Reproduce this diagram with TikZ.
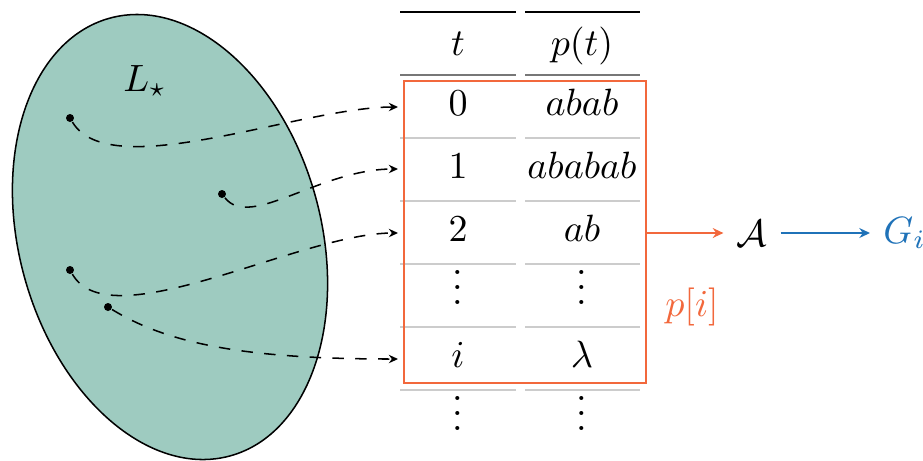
\documentclass[tikz,border=0pt]{standalone}
\usetikzlibrary{arrows.meta}
\definecolor{setfill}{HTML}{9ECBC0}
\definecolor{orng}{HTML}{F2683C}
\definecolor{blu}{HTML}{1F72B8}
\definecolor{midgray}{HTML}{777777}
\definecolor{rowgray}{HTML}{CCCCCC}
\newcommand\myvdots{\vbox{\baselineskip4pt\lineskiplimit0pt\hbox{.}\hbox{.}\hbox{.}}}
\begin{document}
\begin{tikzpicture}[x=0.263pt,y=-0.263pt,
  dot/.style={circle,fill=black,inner sep=0pt,minimum size=2.1pt},
  mapto/.style={dashed,line width=0.4pt,-{Stealth[length=2.4pt,width=2.2pt]}},
  cell/.style={anchor=base,inner sep=0pt},
  toprl/.style={line width=0.7pt,draw=black},
  midrl/.style={line width=0.5pt,draw=midgray},
  rowrl/.style={line width=0.35pt,draw=rowgray},
  selbox/.style={draw=orng,line width=0.6pt,inner sep=0pt,minimum width=63.6pt,minimum height=79.4pt},
  orarrow/.style={draw=orng,line width=0.6pt,-{Stealth[length=2.8pt,width=2.6pt]}},
  blarrow/.style={draw=blu,line width=0.6pt,-{Stealth[length=2.8pt,width=2.6pt]}}
]
\useasboundingbox (0,0) rectangle (923,460);

% the set
\draw[fill=setfill,line width=0.4pt,rotate around={15.4:(170,237)}] (170,237) ellipse [x radius=151, y radius=227];
\node (L) at (145,91) [anchor=base,inner sep=0pt] {$L_\star$};
\node[dot] (d1) at (70,118) {};
\node[dot] (d2) at (222,194) {};
\node[dot] (d3) at (70,270) {};
\node[dot] (d4) at (108,307) {};

% table rules
\foreach \y/\s in {12/toprl,75/midrl,138/rowrl,201/rowrl,264/rowrl,327/rowrl,390/rowrl}{
  \draw[\s] (400,\y) -- (516,\y);
  \draw[\s] (525,\y) -- (640,\y);
}

% header
\node[cell] (ht) at (458,55) {$t$};
\node[cell] (hp) at (582,55) {$p(t)$};

% rows
\node[cell] (t0) at (458,115.5) {$0$};
\node[cell] (p0) at (582,115.5) {$abab$};
\node[cell] (t1) at (458,178.5) {$1$};
\node[cell] (p1) at (582,178.5) {$ababab$};
\node[cell] (t2) at (458,241.5) {$2$};
\node[cell] (p2) at (582,241.5) {$ab$};
\node[cell] (t3) at (458,304.5) {\myvdots};
\node[cell] (p3) at (582,304.5) {\myvdots};
\node[cell] (t4) at (458,367.5) {$i$};
\node[cell] (p4) at (582,367.5) {$\lambda$};
\node[cell] (t5) at (458,430.5) {\myvdots};
\node[cell] (p5) at (582,430.5) {\myvdots};

% selection box
\node[selbox] (box) at (525,232) {};
\node[text=orng] (pi) at (692,307) {$p[i]$};

% mapping arrows
\coordinate (r0) at (398,107);
\coordinate (r1) at (398,169);
\coordinate (r2) at (398,233);
\coordinate (r4) at (398,359);
\draw[mapto] (d1) .. controls (110,185) and (300,107) .. (r0);
\draw[mapto] (d2) .. controls (250,230) and (320,169) .. (r1);
\draw[mapto] (d3) .. controls (110,340) and (300,233) .. (r2);
\draw[mapto] (d4) .. controls (170,345) and (250,359) .. (r4);

% algorithm
\node (A) at (752,233) {$\mathcal{A}$};
\node (G) at (870,233) [anchor=west,text=blu] {$G_i$};
\draw[orarrow] (box.east |- A.west) -- (A.west);
\draw[blarrow] (A.east) -- (A.east -| G.west);
\end{tikzpicture}
\end{document}
